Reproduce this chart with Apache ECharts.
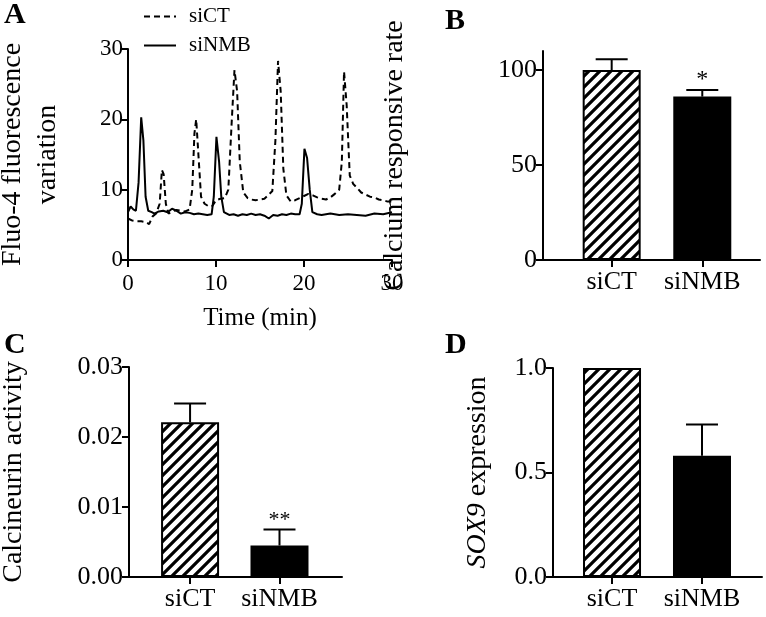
<!DOCTYPE html>
<html>
<head>
<meta charset="utf-8">
<script src="https://cdn.jsdelivr.net/npm/echarts@6/dist/echarts.min.js"></script>
<style>
  html, body { margin: 0; padding: 0; background: #fff; }
  #main { width: 766px; height: 617px; }
</style>
</head>
<body>
<div id="main"></div>
<script>
// panel A: Fluo-4 traces (time in min, fluorescence)
const ctTime = [0, 0.5, 1, 1.5, 2, 2.4, 2.8, 3.2, 3.6, 3.85, 4.05, 4.3, 4.6, 5, 5.5, 6, 6.5, 7, 7.3, 7.55,
  7.75, 8.0, 8.3, 8.7, 9.2, 9.6, 10, 10.5, 11, 11.4, 11.8, 12.1, 12.4, 12.7, 13.1, 13.6, 14, 14.5, 15, 15.5,
  16, 16.4, 16.75, 17.05, 17.35, 17.65, 18, 18.5, 19, 19.5, 20, 20.5, 21, 21.5, 22, 22.5, 23, 23.5, 24, 24.3,
  24.55, 24.85, 25.2, 25.6, 26, 26.5, 27, 27.5, 28, 28.5, 29, 29.5, 30]
const ctValue = [5.9, 5.6, 5.5, 5.5, 5.4, 5.1, 6.2, 6.6, 8, 12.8, 12.2, 8, 6.6, 6.9, 7.1, 7.0, 6.9, 7.2, 10, 18,
  20, 15, 9, 8, 7.6, 7.7, 8.5, 8.7, 8.8, 10, 20, 27, 24, 14, 9.6, 8.8, 8.6, 8.5, 8.6, 8.7,
  9.3, 9.8, 17, 28.3, 24, 13, 9.2, 8.3, 8.5, 8.8, 9.1, 9.4, 9.2, 8.9, 8.7, 8.6, 8.9, 9.4, 10, 14,
  26.8, 22, 12, 10.8, 10.3, 9.6, 9.3, 9.0, 8.9, 8.6, 8.5, 8.3, 8.3]
const nmbTime = [0, 0.3, 0.6, 0.9, 1.2, 1.5, 1.75, 2.0, 2.3, 2.7, 3, 3.5, 4, 4.5, 5, 5.5, 6, 6.5, 7, 7.5,
  8, 8.5, 9, 9.5, 9.75, 10.05, 10.35, 10.6, 10.9, 11.5, 12, 12.5, 13, 13.5, 14, 14.5, 15, 15.5, 16, 16.5,
  17, 17.5, 18, 18.5, 19, 19.5, 19.75, 20.05, 20.35, 20.65, 20.95, 21.5, 22, 23, 24, 25, 26, 27, 28, 29, 30]
const nmbValue = [6.8, 7.6, 7.2, 7.0, 11, 20.3, 17, 9, 7.0, 6.8, 6.6, 6.9, 7.0, 6.8, 7.3, 7.0, 6.6, 6.8, 6.7, 6.5,
  6.6, 6.5, 6.4, 6.5, 9, 17.5, 14, 9, 6.8, 6.4, 6.5, 6.3, 6.5, 6.4, 6.6, 6.4, 6.5, 6.3, 5.9, 6.4,
  6.3, 6.5, 6.4, 6.6, 6.5, 6.5, 8, 15.8, 14.5, 10, 6.8, 6.5, 6.4, 6.6, 6.4, 6.5, 6.4, 6.3, 6.6, 6.5, 6.8]

// bar panels
const groups = ['siCT', 'siNMB']
const rateMean = [100, 86]
const rateSem = [5.6, 3.5]
const rateStars = ['', '*']
const cnMean = [0.0221, 0.0045]
const cnSem = [0.0027, 0.0023]
const cnStars = ['', '**']
const soxMean = [1.0, 0.58]
const soxSem = [0, 0.15]
const soxStars = ['', '']

const FONT = 'Liberation Serif'
const BLACK = '#000'

// diagonal hatch fill for the control bars
function hatch() {
    const s = 11
    const c = document.createElement('canvas')
    c.width = s
    c.height = s
    const ctx = c.getContext('2d')
    ctx.fillStyle = '#fff'
    ctx.fillRect(0, 0, s, s)
    ctx.strokeStyle = '#000'
    ctx.lineWidth = 3.2
    ctx.beginPath()
    ctx.moveTo(-2, s + 2); ctx.lineTo(s + 2, -2)
    ctx.moveTo(-2, 2); ctx.lineTo(2, -2)
    ctx.moveTo(s - 2, s + 2); ctx.lineTo(s + 2, s - 2)
    ctx.stroke()
    return { image: c, repeat: 'repeat' }
}
const hatchFill = hatch()

const axisLine = { lineStyle: { color: BLACK, width: 2 } }
const axisTick = { length: 7, lineStyle: { color: BLACK, width: 2 } }

function pairs(xs, ys) {
    return xs.map((x, i) => [x, ys[i]])
}

function barAxisX(idx, min, max) {
    return {
        type: 'value', gridIndex: idx, min: min, max: max,
        axisLine: axisLine,
        axisTick: Object.assign({ customValues: [1, 2] }, axisTick),
        splitLine: { show: false },
        axisLabel: {
            customValues: [1, 2], margin: 9, color: BLACK, fontFamily: FONT, fontSize: 26,
            formatter: (v) => groups[Math.round(v) - 1],
        },
    }
}

function barAxisY(idx, max, ticks, name, gap, fmt, rich) {
    return {
        type: 'value', gridIndex: idx, min: 0, max: max,
        name: name, nameLocation: 'middle', nameGap: gap, nameRotate: 90,
        nameTextStyle: { color: BLACK, fontFamily: FONT, fontSize: 28, rich: rich },
        axisLine: Object.assign({ show: true }, axisLine),
        axisTick: Object.assign({ show: true, customValues: ticks }, axisTick),
        splitLine: { show: false },
        axisLabel: { customValues: ticks, margin: 6, color: BLACK, fontFamily: FONT, fontSize: 26, formatter: fmt },
    }
}

function barSeries(idx, mean) {
    return {
        type: 'bar', xAxisIndex: idx, yAxisIndex: idx, barWidth: 58,
        data: mean.map((v, i) => ({
            value: [i + 1, v],
            itemStyle: { color: i === 0 ? hatchFill : BLACK, borderColor: BLACK, borderWidth: 2 },
        })),
    }
}

function errSeries(idx, mean, sem, stars, starSize) {
    return {
        type: 'custom', xAxisIndex: idx, yAxisIndex: idx, z: 3,
        data: mean.map((v, i) => [i + 1, v, sem[i]]),
        renderItem: (params, api) => {
            const x = api.value(0), m = api.value(1), s = api.value(2)
            const base = api.coord([x, m])
            const top = api.coord([x, m + s])
            const kids = []
            if (s > 0) {
                kids.push({ type: 'line', shape: { x1: base[0], y1: base[1], x2: top[0], y2: top[1] }, style: { stroke: BLACK, lineWidth: 2 } })
                kids.push({ type: 'line', shape: { x1: top[0] - 16, y1: top[1], x2: top[0] + 16, y2: top[1] }, style: { stroke: BLACK, lineWidth: 2 } })
            }
            const star = stars[params.dataIndex]
            if (star) {
                kids.push({
                    type: 'text',
                    style: { text: star, x: top[0], y: top[1] + 2, align: 'center', verticalAlign: 'bottom', fill: BLACK, font: starSize + 'px ' + FONT },
                })
            }
            return { type: 'group', children: kids }
        },
    }
}

const letter = (t, left, top) => ({
    text: t, left: left, top: top, padding: 0,
    textStyle: { fontFamily: FONT, fontSize: 30, fontWeight: 'bold', color: BLACK },
})

const gridBox = (left, top, width, height) => ({
    left: left, top: top, width: width, height: height, outerBoundsMode: 'none', containLabel: false,
})

const chart = echarts.init(document.getElementById('main'))
chart.setOption({
    backgroundColor: '#fff',
    animation: false,
    title: [letter('A', 4, 0), letter('B', 445, 6), letter('C', 4, 330), letter('D', 445, 330)],
    legend: {
        left: 138, top: 1, orient: 'vertical', itemWidth: 32, itemHeight: 14, itemGap: 8,
        itemStyle: { opacity: 0 },
        textStyle: { color: BLACK, fontFamily: FONT, fontSize: 21, padding: [0, 0, 0, 8] },
        data: ['siCT', 'siNMB'],
    },
    grid: [
        gridBox(128, 49, 264, 211),
        gridBox(543, 51, 217, 209),
        gridBox(129, 367, 213, 210),
        gridBox(553, 368, 209, 209),
    ],
    xAxis: [
        {
            type: 'value', gridIndex: 0, min: 0, max: 30, interval: 10,
            name: 'Time (min)', nameLocation: 'middle', nameGap: 46,
            nameTextStyle: { color: BLACK, fontFamily: FONT, fontSize: 25 },
            axisLine: axisLine, axisTick: axisTick, splitLine: { show: false },
            axisLabel: { margin: 12, color: BLACK, fontFamily: FONT, fontSize: 23 },
        },
        barAxisX(1, 0.242, 2.637),
        barAxisX(2, 0.317, 2.699),
        barAxisX(3, 0.344, 2.667),
    ],
    yAxis: [
        {
            type: 'value', gridIndex: 0, min: 0, max: 30, interval: 10,
            name: 'Fluo-4 fluorescence\nvariation', nameLocation: 'middle', nameGap: 63, nameRotate: 90,
            nameTextStyle: { color: BLACK, fontFamily: FONT, fontSize: 28, lineHeight: 35 },
            axisLine: Object.assign({ show: true }, axisLine),
            axisTick: Object.assign({ show: true }, axisTick),
            splitLine: { show: false },
            axisLabel: { margin: 5, color: BLACK, fontFamily: FONT, fontSize: 23 },
        },
        barAxisY(1, 110, [0, 50, 100], 'Calcium responsive rate', 134, (v) => String(v)),
        barAxisY(2, 0.03, [0, 0.01, 0.02, 0.03], 'Calcineurin activity', 101, (v) => v.toFixed(2)),
        barAxisY(3, 1.0, [0, 0.5, 1.0], '{i|SOX9} expression', 61, (v) => v.toFixed(1),
            { i: { fontStyle: 'italic', fontFamily: FONT, fontSize: 28, color: BLACK } }),
    ],
    series: [
        {
            name: 'siCT', type: 'line', xAxisIndex: 0, yAxisIndex: 0, symbol: 'none', color: BLACK,
            lineStyle: { color: BLACK, width: 2, type: [6, 4] },
            data: pairs(ctTime, ctValue),
        },
        {
            name: 'siNMB', type: 'line', xAxisIndex: 0, yAxisIndex: 0, symbol: 'none', color: BLACK,
            lineStyle: { color: BLACK, width: 2 },
            data: pairs(nmbTime, nmbValue),
        },
        barSeries(1, rateMean),
        errSeries(1, rateMean, rateSem, rateStars, 24),
        barSeries(2, cnMean),
        errSeries(2, cnMean, cnSem, cnStars, 22),
        barSeries(3, soxMean),
        errSeries(3, soxMean, soxSem, soxStars, 22),
    ],
})
</script>
</body>
</html>
